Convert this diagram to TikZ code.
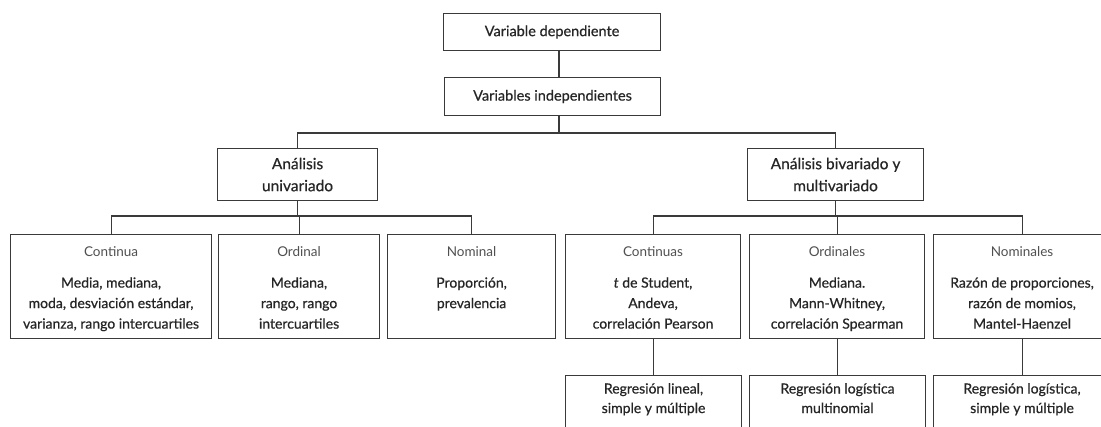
\documentclass[tikz,border=0pt]{standalone}
\usepackage{fontspec}
\setmainfont{Lato}[FakeBold=0.6]
\newfontfamily\hdfont{Lato}
\definecolor{ink}{HTML}{262626}
\definecolor{head}{HTML}{505050}
\definecolor{frame}{HTML}{3A3A3A}
\newcommand\hdr{\hdfont\color{head}\fontsize{13.5}{14}\selectfont}
\begin{document}
\begin{tikzpicture}[x=1pt,y=-1pt,
  box/.style={draw=frame,line width=1.1pt,inner sep=0pt,anchor=north west},
  txt/.style={inner sep=0pt,align=center,text=ink,font=\fontsize{14}{20.5}\selectfont},
  bigtxt/.style={inner sep=0pt,align=center,text=ink,font=\fontsize{15.5}{22}\selectfont},
  link/.style={draw=frame,line width=1.1pt}]
\useasboundingbox (0,0) rectangle (1101,426);
\clip (0,0) rectangle (1101,426);
% boxes
\node[box,minimum width=217pt,minimum height=37pt] (dep) at (443,13) {};
\node[box,minimum width=216pt,minimum height=38pt] (indep) at (444,77) {};
\node[box,minimum width=160pt,minimum height=52pt] (uni) at (217,148) {};
\node[box,minimum width=176pt,minimum height=52pt] (biv) at (747,148) {};
\node[box,minimum width=201pt,minimum height=104pt] (cont) at (10,234) {};
\node[box,minimum width=161pt,minimum height=104pt] (ord) at (218,234) {};
\node[box,minimum width=168pt,minimum height=104pt] (nom) at (387,234) {};
\node[box,minimum width=175pt,minimum height=104pt] (conts) at (565,234) {};
\node[box,minimum width=175pt,minimum height=104pt] (ords) at (749,234) {};
\node[box,minimum width=177pt,minimum height=104pt] (noms) at (933,234) {};
\node[box,minimum width=176pt,minimum height=57pt] (reg1) at (565,375) {};
\node[box,minimum width=176pt,minimum height=57pt] (reg2) at (749,375) {};
\node[box,minimum width=177pt,minimum height=57pt] (reg3) at (933,375) {};
% texts
\node[bigtxt,font=\fontsize{14.5}{22}\selectfont] (tdep) at (dep.center) {Variable dependiente};
\node[bigtxt,font=\fontsize{14.5}{22}\selectfont] (tindep) at (indep.center) {Variables independientes};
\node[bigtxt] (tuni) at (uni.center) {Análisis\\univariado};
\node[bigtxt] (tbiv) at (biv.center) {Análisis bivariado y\\multivariado};
\node[txt,anchor=north] (tcont) at ([yshift=-12pt]cont.north) {{\hdr Continua}\\[11pt]Media, mediana,\\moda, desviación estándar,\\varianza, rango intercuartiles};
\node[txt,anchor=north] (tord) at ([yshift=-12pt]ord.north) {{\hdr Ordinal}\\[11pt]Mediana,\\rango, rango\\intercuartiles};
\node[txt,anchor=north] (tnom) at ([yshift=-12pt]nom.north) {{\hdr Nominal}\\[11pt]Proporción,\\prevalencia};
\node[txt,anchor=north] (tconts) at ([yshift=-12pt]conts.north) {{\hdr Continuas}\\[11pt]\textit{t} de Student,\\Andeva,\\correlación Pearson};
\node[txt,anchor=north] (tords) at ([yshift=-12pt]ords.north) {{\hdr Ordinales}\\[11pt]Mediana.\\Mann-Whitney,\\correlación Spearman};
\node[txt,anchor=north] (tnoms) at ([yshift=-12pt]noms.north) {{\hdr Nominales}\\[11pt]Razón de proporciones,\\razón de momios,\\Mantel-Haenzel};
\node[txt,anchor=north,font=\fontsize{14}{19.5}\selectfont] (treg1) at ([yshift=-8pt]reg1.north) {Regresión lineal,\\simple y múltiple};
\node[txt,anchor=north,font=\fontsize{14}{19.5}\selectfont] (treg2) at ([yshift=-8pt]reg2.north) {Regresión logística\\multinomial};
\node[txt,anchor=north,font=\fontsize{14}{19.5}\selectfont] (treg3) at ([yshift=-8pt]reg3.north) {Regresión logística,\\simple y múltiple};
% connectors
\coordinate (trunk) at (559,133);
\draw[link] (dep.south -| trunk) -- (indep.north -| trunk);
\draw[link] (indep.south -| trunk) -- (trunk);
\draw[link] (uni.north) |- (trunk) -| (biv.north);
\coordinate (lbar) at (297,216);
\draw[link] (uni.south) -- (uni.south |- lbar);
\draw[link] (cont.north) |- (lbar) -| (nom.north);
\draw[link] (ord.north) -- (ord.north |- lbar);
\coordinate (rbar) at (835,216);
\draw[link] (biv.south) -- (biv.south |- rbar);
\draw[link] (conts.north) |- (rbar) -| (noms.north);
\draw[link] (ords.north) -- (ords.north |- rbar);
\draw[link] (conts.south) -- (reg1.north -| conts.south);
\draw[link] (ords.south) -- (reg2.north -| ords.south);
\draw[link] (noms.south) -- (reg3.north -| noms.south);
\end{tikzpicture}
\end{document}
